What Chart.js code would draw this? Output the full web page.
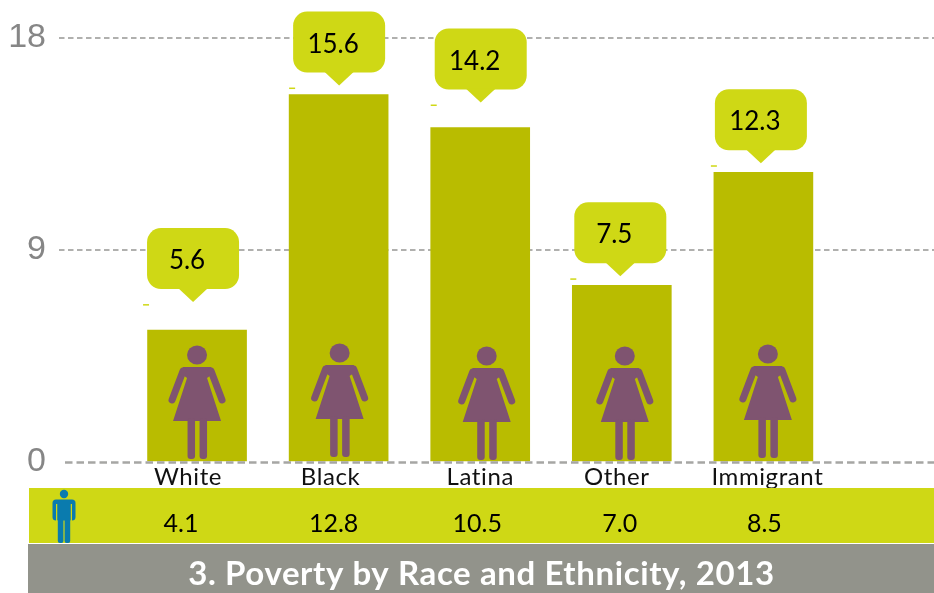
<!DOCTYPE html>
<html>
<head>
<meta charset="utf-8">
<title>Poverty by Race and Ethnicity, 2013</title>
<script src="https://cdn.jsdelivr.net/npm/chart.js@4"></script>
<style>
  html, body { margin: 0; padding: 0; background: #fff; }
  canvas { display: block; }
</style>
</head>
<body>
<canvas id="chart" width="934" height="593"></canvas>
<script>
var categories = ['White', 'Black', 'Latina', 'Other', 'Immigrant'];
var womenValues = [5.6, 15.6, 14.2, 7.5, 12.3];
var menValues = ['4.1', '12.8', '10.5', '7.0', '8.5'];
var yTicks = [0, 9, 18];
var chartTitle = '3. Poverty by Race and Ethnicity, 2013';

// hand placement from the original picture, px away from the bar centre / top
var labelNudge = [-9, -8, 0, -5, 4];
var menNudge = [-16, -5, -3, -2, 1];
var calloutNudge = [-4, 0.5, 0.5, -1.5, -2.5];
var calloutLift = [28, 9, 25, 9, 9];
var figureNudge = [0, 1, 6.5, 3, 4.5];
var figureFoot = [459, 457, 460, 460, 458];

var LIME = '#CFD815';
var OLIVE = '#B9BC00';
var PURPLE = '#7F5470';
var BLUE = '#0A7BAE';
var GREY = '#92938B';
var TEXT_FONT = 'Lato, sans-serif';

function drawCallout(ctx, tipX, tipY, text) {
  var w = 92, h = 61, top = tipY - 74, left = tipX - w / 2;
  ctx.fillStyle = LIME;
  ctx.beginPath();
  ctx.roundRect(left, top, w, h, 14);
  ctx.fill();
  ctx.beginPath();
  ctx.moveTo(tipX - 15, top + h - 1);
  ctx.lineTo(tipX + 15, top + h - 1);
  ctx.lineTo(tipX, tipY);
  ctx.closePath();
  ctx.fill();
  // little stray dash next to each callout
  ctx.fillRect(left - 4, tipY + 2, 6, 1.5);
  ctx.fillStyle = '#000';
  ctx.font = '26px ' + TEXT_FONT;
  ctx.textAlign = 'center';
  ctx.textBaseline = 'alphabetic';
  ctx.fillText(text, tipX - 6, top + 41);
}

function drawWoman(ctx, cx, foot) {
  var y = function (v) { return foot - 459 + v; };
  ctx.fillStyle = PURPLE;
  ctx.strokeStyle = PURPLE;
  ctx.lineCap = 'round';
  ctx.beginPath();
  ctx.ellipse(cx, y(355), 10, 9.5, 0, 0, Math.PI * 2);
  ctx.fill();
  // shoulders and dress
  ctx.beginPath();
  ctx.moveTo(cx - 14, y(367));
  ctx.lineTo(cx + 14, y(367));
  ctx.lineTo(cx + 17, y(373));
  ctx.lineTo(cx + 10, y(378));
  ctx.lineTo(cx + 24, y(421));
  ctx.lineTo(cx - 24, y(421));
  ctx.lineTo(cx - 10, y(378));
  ctx.lineTo(cx - 17, y(373));
  ctx.closePath();
  ctx.fill();
  // arms
  ctx.lineWidth = 7;
  [-1, 1].forEach(function (s) {
    ctx.beginPath();
    ctx.moveTo(cx + s * 14, y(371));
    ctx.lineTo(cx + s * 25, y(400));
    ctx.stroke();
  });
  // legs
  ctx.beginPath();
  ctx.roundRect(cx - 9.5, y(418), 7.5, 41, 3);
  ctx.roundRect(cx + 2.5, y(418), 7.5, 41, 3);
  ctx.fill();
}

function drawMan(ctx) {
  ctx.fillStyle = BLUE;
  ctx.beginPath();
  ctx.arc(64, 494, 4.2, 0, Math.PI * 2);
  ctx.fill();
  ctx.beginPath();
  ctx.roundRect(52.5, 499.5, 23, 21, 3.5);
  ctx.fill();
  ctx.fillStyle = LIME;
  ctx.fillRect(56, 504, 1.5, 17);
  ctx.fillRect(70.5, 504, 1.5, 17);
  ctx.fillStyle = BLUE;
  ctx.beginPath();
  ctx.rect(57.5, 502, 13, 18);
  ctx.roundRect(57.8, 516, 5.6, 27, 2);
  ctx.roundRect(64.6, 516, 5.6, 27, 2);
  ctx.fill();
}

var decorations = {
  id: 'decorations',
  afterDatasetsDraw: function (chart) {
    var ctx = chart.ctx;
    var xs = chart.scales.x;
    var ys = chart.scales.y;
    ctx.save();

    // zero line sits on top of the bars, heavier than the other gridlines
    ctx.strokeStyle = '#A6A6A4';
    ctx.lineWidth = 2.5;
    ctx.setLineDash([7.5, 4]);
    ctx.beginPath();
    ctx.moveTo(65, ys.getPixelForValue(0) + 0.5);
    ctx.lineTo(934, ys.getPixelForValue(0) + 0.5);
    ctx.stroke();
    ctx.setLineDash([]);

    categories.forEach(function (name, i) {
      var cx = xs.getPixelForValue(i);
      drawWoman(ctx, cx + figureNudge[i], figureFoot[i]);
      drawCallout(ctx, cx + calloutNudge[i],
        ys.getPixelForValue(womenValues[i]) - calloutLift[i],
        womenValues[i].toFixed(1));
      ctx.fillStyle = '#111';
      ctx.font = '24px ' + TEXT_FONT;
      ctx.letterSpacing = '0.6px';
      ctx.textAlign = 'center';
      ctx.textBaseline = 'alphabetic';
      ctx.fillText(name, cx + labelNudge[i], 485);
      ctx.letterSpacing = '0px';
    });

    // bands go over the labels, they cut the g of Immigrant
    ctx.fillStyle = LIME;
    ctx.fillRect(29, 488, 905, 55);
    ctx.fillStyle = GREY;
    ctx.fillRect(28, 544, 906, 49);
    drawMan(ctx);

    ctx.fillStyle = '#000';
    ctx.font = '25px ' + TEXT_FONT;
    ctx.textAlign = 'center';
    menValues.forEach(function (v, i) {
      ctx.fillText(v, xs.getPixelForValue(i) + menNudge[i], 532);
    });

    ctx.fillStyle = '#fff';
    ctx.font = 'bold 33px ' + TEXT_FONT;
    ctx.letterSpacing = '0.6px';
    ctx.fillText(chartTitle, 481.5, 585);
    ctx.restore();
  }
};

new Chart(document.getElementById('chart'), {
  type: 'bar',
  data: {
    datasets: [{
      data: womenValues.map(function (v, i) { return {x: i, y: v}; }),
      backgroundColor: OLIVE,
      barThickness: 99
    }]
  },
  options: {
    responsive: false,
    animation: false,
    layout: {padding: {top: 38, right: 0, bottom: 131, left: 0}},
    plugins: {legend: {display: false}, tooltip: {enabled: false}},
    scales: {
      x: {
        type: 'linear',
        offset: false,
        min: -0.975,
        max: 5.205,
        display: false,
        grid: {display: false}
      },
      y: {
        min: 0,
        max: 18,
        afterBuildTicks: function (axis) {
          axis.ticks = yTicks.map(function (v) { return {value: v}; });
        },
        afterFit: function (axis) { axis.width = 59; },
        border: {display: false, dash: [5.5, 3.5]},
        grid: {
          drawTicks: false,
          lineWidth: 2,
          color: function (c) { return c.tick && c.tick.value === 0 ? 'transparent' : '#B0B0AE'; }
        },
        ticks: {
          padding: 13,
          color: '#868686',
          font: {family: '"Liberation Sans", Arial, sans-serif', size: 34}
        }
      }
    }
  },
  plugins: [decorations]
});
</script>
</body>
</html>
